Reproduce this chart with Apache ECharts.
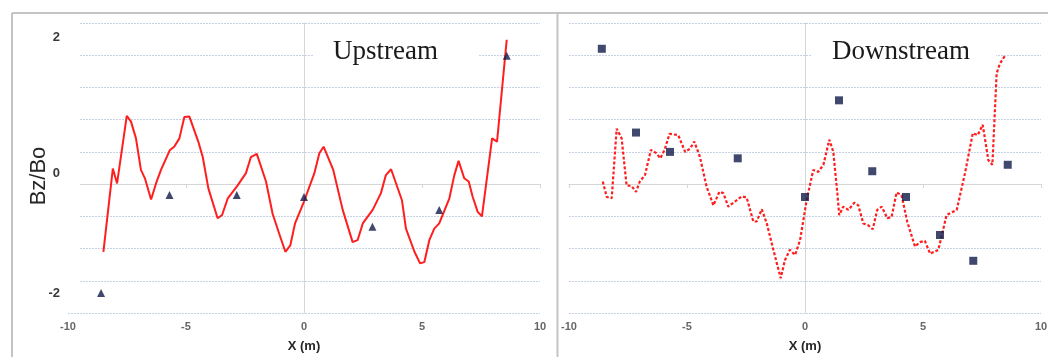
<!DOCTYPE html>
<html>
<head>
<meta charset="utf-8">
<title>Bz/Bo upstream and downstream</title>
<script src="https://cdn.jsdelivr.net/npm/echarts@6/dist/echarts.min.js"></script>
<style>
  html, body { margin: 0; padding: 0; background: #ffffff; }
  #chart { width: 1048px; height: 357px; }
</style>
</head>
<body>
<div id="chart"></div>
<script>
// ---- data (x in metres, Bz/Bo) ----
const upstreamProfile = [
  [-8.5,-1.05],[-8.1,0.24],[-7.92,0.01],[-7.51,1.06],[-7.33,0.97],[-7.12,0.71],[-6.91,0.22],
  [-6.74,0.09],[-6.48,-0.24],[-6.27,0.01],[-6.06,0.22],[-5.68,0.53],[-5.5,0.58],[-5.28,0.71],
  [-5.07,1.04],[-4.86,1.05],[-4.48,0.66],[-4.29,0.42],[-4.05,-0.07],[-3.66,-0.53],[-3.47,-0.48],
  [-3.23,-0.22],[-2.81,-0.02],[-2.46,0.17],[-2.25,0.42],[-2.0,0.47],[-1.61,0.04],[-1.33,-0.46],
  [-1.05,-0.77],[-0.79,-1.05],[-0.58,-0.95],[-0.38,-0.61],[0.0,-0.27],[0.44,0.17],[0.65,0.48],
  [0.83,0.58],[1.24,0.22],[1.64,-0.40],[2.06,-0.90],[2.27,-0.87],[2.49,-0.61],[2.91,-0.40],
  [3.26,-0.14],[3.47,0.14],[3.69,0.23],[4.15,-0.25],[4.32,-0.69],[4.68,-1.05],[4.92,-1.23],
  [5.1,-1.21],[5.31,-0.87],[5.52,-0.69],[5.73,-0.61],[6.16,-0.22],[6.37,0.14],[6.55,0.36],
  [6.79,0.09],[6.98,0.04],[7.15,-0.20],[7.36,-0.43],[7.54,-0.50],[7.97,0.71],[8.18,0.66],
  [8.59,2.24]
];
const upstreamProbes = [
  [-8.6,-1.69],[-5.7,-0.17],[-2.85,-0.17],[0.0,-0.20],[2.9,-0.66],[5.73,-0.40],[8.59,1.99]
];
const downstreamProfile = [
  [-8.57,0.04],[-8.4,-0.20],[-8.19,-0.22],[-7.98,0.86],[-7.77,0.71],[-7.56,-0.02],[-7.35,-0.03],
  [-7.16,-0.12],[-7.0,0.04],[-6.78,0.14],[-6.53,0.53],[-6.3,0.48],[-6.13,0.40],[-5.95,0.53],
  [-5.74,0.78],[-5.37,0.76],[-5.08,0.50],[-4.87,0.55],[-4.69,0.66],[-4.45,0.42],[-4.17,-0.04],
  [-3.88,-0.33],[-3.63,-0.12],[-3.46,-0.14],[-3.25,-0.35],[-2.97,-0.27],[-2.68,-0.19],[-2.47,-0.21],
  [-2.19,-0.58],[-2.05,-0.58],[-1.83,-0.39],[-1.62,-0.61],[-1.34,-1.02],[-1.03,-1.46],[-0.85,-1.18],
  [-0.64,-1.02],[-0.42,-1.10],[-0.21,-0.87],[0.07,-0.25],[0.35,0.22],[0.56,0.19],[0.78,0.30],
  [1.03,0.69],[1.2,0.50],[1.37,-0.14],[1.45,-0.48],[1.62,-0.35],[1.84,-0.40],[2.09,-0.29],
  [2.26,-0.33],[2.47,-0.61],[2.68,-0.64],[2.87,-0.70],[3.06,-0.40],[3.25,-0.35],[3.49,-0.53],
  [3.67,-0.51],[3.88,-0.13],[4.09,-0.17],[4.33,-0.58],[4.66,-0.97],[4.87,-0.90],[5.08,-0.88],
  [5.30,-1.08],[5.65,-1.02],[6.0,-0.48],[6.43,-0.40],[6.78,0.17],[7.11,0.79],[7.32,0.76],
  [7.53,0.92],[7.77,0.37],[7.94,0.30],[8.12,1.72],[8.26,1.87],[8.47,1.99]
];
const downstreamProbes = [
  [-8.61,2.10],[-7.16,0.80],[-5.72,0.50],[-2.85,0.40],[0.0,-0.20],[1.44,1.30],[2.85,0.20],
  [4.28,-0.20],[5.72,-0.79],[7.13,-1.19],[8.59,0.30]
];

// ---- text ----
const panelTitles = ['Upstream', 'Downstream'];
const yAxisTitle = 'Bz/Bo';
const xAxisTitle = 'X (m)';
const yTickLabels = ['2', '0', '-2'];
const yTickLabelTops = [37, 173, 293];

// ---- styling ----
const RED = '#ff1e1e';
const NAVY = '#111a4a';
const GRID_DOT = '#c7d1e6';
const AXIS_GREY = '#d6d6d6';
const FRAME = '#c4c4c4';

const grids = [
  { left: 68, right: 508, top: 23, bottom: 44, outerBoundsMode: 'none', containLabel: false },
  { left: 569, right: 7, top: 23, bottom: 44, outerBoundsMode: 'none', containLabel: false }
];

function xAxesFor(gi) {
  return [
    {
      gridIndex: gi, type: 'value', min: -10, max: 10, interval: 5,
      name: xAxisTitle, nameLocation: 'middle', nameGap: 27,
      nameTextStyle: { fontFamily: 'Liberation Sans', fontWeight: 'bold', fontSize: 13, color: '#262626' },
      axisLine: { show: false, onZero: false },
      axisTick: { show: false },
      splitLine: { show: false },
      axisLabel: { fontFamily: 'Liberation Sans', fontWeight: 'bold', fontSize: 11, color: '#666666', margin: 8 }
    },
    {
      gridIndex: gi, type: 'value', min: -10, max: 10, interval: 5,
      axisLine: { show: true, onZero: true, lineStyle: { color: AXIS_GREY, width: 1 } },
      axisTick: { show: true, inside: true, length: 4, lineStyle: { color: AXIS_GREY } },
      axisLabel: { show: false },
      splitLine: { show: false }
    }
  ];
}

function yAxisFor(gi) {
  return {
    gridIndex: gi, type: 'value', min: -2, max: 2.5, interval: 0.5,
    axisLine: { show: true, onZero: true, lineStyle: { color: AXIS_GREY, width: 1 } },
    axisTick: { show: false },
    axisLabel: { show: false },
    splitLine: { show: true, lineStyle: { color: GRID_DOT, type: [2, 1], width: 1 } }
  };
}

const graphics = [
  // panel frames
  { type: 'line', z: 5, shape: { x1: 12, y1: 13, x2: 1048, y2: 13 }, style: { stroke: FRAME, lineWidth: 2 } },
  { type: 'line', z: 5, shape: { x1: 12, y1: 13, x2: 12, y2: 357 }, style: { stroke: FRAME, lineWidth: 2 } },
  { type: 'line', z: 5, shape: { x1: 557.5, y1: 13, x2: 557.5, y2: 357 }, style: { stroke: FRAME, lineWidth: 2 } },
  // label area on the left panel stays clear of grid lines
  { type: 'rect', z: 1, shape: { x: 62, y: 18, width: 18, height: 180 }, style: { fill: '#ffffff' } },
  { type: 'rect', z: 1, shape: { x: 62, y: 198, width: 18, height: 110 }, style: { fill: '#ffffff' } },
  // axis title
  {
    type: 'text', z: 6, x: 39, y: 176, rotation: Math.PI / 2,
    style: { text: yAxisTitle, fontFamily: 'Liberation Sans', fontSize: 22, fill: '#262626', align: 'center', verticalAlign: 'middle' }
  },
  // panel titles on white boxes
  {
    type: 'text', z: 3, x: 313, y: 52,
    style: {
      text: panelTitles[0], fontFamily: 'Liberation Serif', fontSize: 27, fill: '#1a1a1a',
      align: 'left', verticalAlign: 'middle', backgroundColor: '#ffffff', padding: [6, 40, 6, 20]
    }
  },
  {
    type: 'text', z: 3, x: 812, y: 52,
    style: {
      text: panelTitles[1], fontFamily: 'Liberation Serif', fontSize: 27, fill: '#1a1a1a',
      align: 'left', verticalAlign: 'middle', backgroundColor: '#ffffff', padding: [6, 26, 6, 20]
    }
  }
];
yTickLabels.forEach(function (t, i) {
  graphics.push({
    type: 'text', z: 6, x: 60, y: yTickLabelTops[i],
    style: { text: t, fontFamily: 'Liberation Sans', fontWeight: 'bold', fontSize: 13, fill: '#3a3a3a', align: 'right', verticalAlign: 'middle' }
  });
});

const option = {
  animation: false,
  backgroundColor: '#ffffff',
  grid: grids,
  xAxis: xAxesFor(0).concat(xAxesFor(1)),
  yAxis: [yAxisFor(0), yAxisFor(1)],
  graphic: graphics,
  series: [
    {
      type: 'line', xAxisIndex: 0, yAxisIndex: 0, data: upstreamProfile,
      showSymbol: false, symbol: 'none', z: 4,
      lineStyle: { color: RED, width: 2 }
    },
    {
      type: 'scatter', xAxisIndex: 0, yAxisIndex: 0, data: upstreamProbes,
      symbol: 'triangle', symbolSize: 8, z: 5,
      itemStyle: { color: NAVY }
    },
    {
      type: 'line', xAxisIndex: 2, yAxisIndex: 1, data: downstreamProfile,
      showSymbol: false, symbol: 'none', z: 4,
      lineStyle: { color: RED, width: 2.2, type: [3, 2] }
    },
    {
      type: 'scatter', xAxisIndex: 2, yAxisIndex: 1, data: downstreamProbes,
      symbol: 'rect', symbolSize: 8, z: 5,
      itemStyle: { color: NAVY }
    }
  ]
};

const chart = echarts.init(document.getElementById('chart'), null, { renderer: 'canvas' });
chart.setOption(option);
</script>
</body>
</html>
